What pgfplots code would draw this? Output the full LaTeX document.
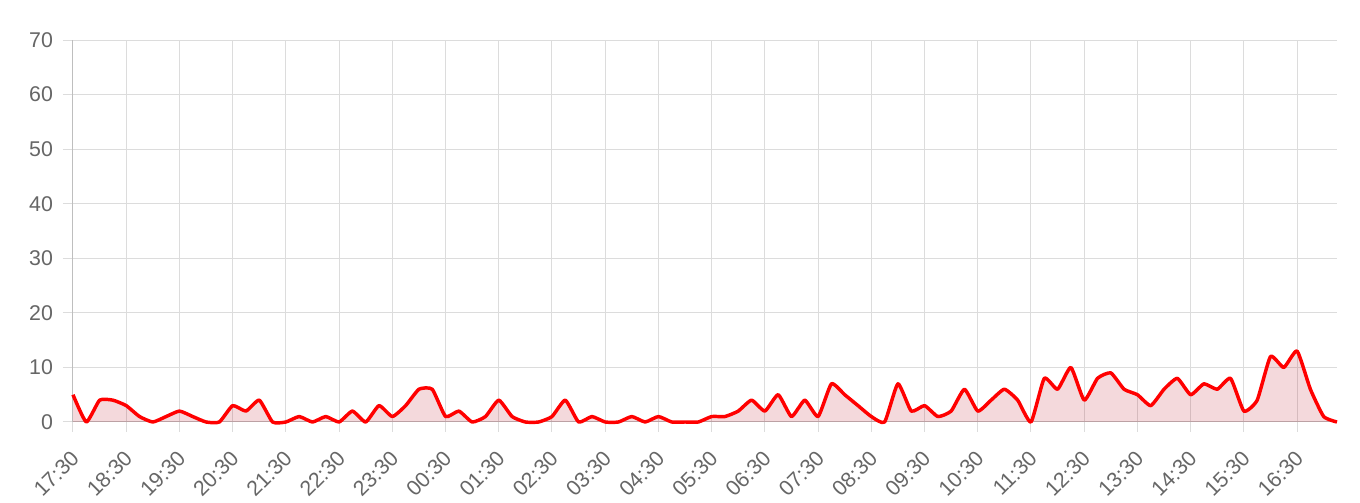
\documentclass[border=0pt]{standalone}
\usepackage{fontspec}
\setmainfont{Liberation Sans}
\usepackage{pgfplots}
\usepackage{pgfplotstable}
\pgfplotsset{compat=1.18}

\definecolor{lbl}{RGB}{102,102,102}
\definecolor{gridc}{RGB}{220,220,220}
\definecolor{axc}{RGB}{190,190,190}
\definecolor{ln}{RGB}{255,0,0}
\definecolor{fl}{RGB}{180,0,20}

% one value every 15 minutes, 17:30 .. 17:15
\pgfplotstableread{
q v
0 5
1 0
2 4
3 4
4 3
5 1
6 0
7 1
8 2
9 1
10 0
11 0
12 3
13 2
14 4
15 0
16 0
17 1
18 0
19 1
20 0
21 2
22 0
23 3
24 1
25 3
26 6
27 6
28 1
29 2
30 0
31 1
32 4
33 1
34 0
35 0
36 1
37 4
38 0
39 1
40 0
41 0
42 1
43 0
44 1
45 0
46 0
47 0
48 1
49 1
50 2
51 4
52 2
53 5
54 1
55 4
56 1
57 7
58 5
59 3
60 1
61 0
62 7
63 2
64 3
65 1
66 2
67 6
68 2
69 4
70 6
71 4
72 0
73 8
74 6
75 10
76 4
77 8
78 9
79 6
80 5
81 3
82 6
83 8
84 5
85 7
86 6
87 8
88 2
89 4
90 12
91 10
92 13
93 6
94 1
95 0
}\counts

\begin{document}
\begin{tikzpicture}
\begin{axis}[
  at={(0,0)}, anchor=south west,
  scale only axis, width=948pt, height=286.5pt,
  xmin=0, xmax=95, ymin=0, ymax=70,
  xtick={0,4,...,92},
  xticklabels={17:30,18:30,19:30,20:30,21:30,22:30,23:30,00:30,01:30,02:30,03:30,04:30,05:30,06:30,07:30,08:30,09:30,10:30,11:30,12:30,13:30,14:30,15:30,16:30},
  ytick={0,10,...,70},
  axis lines=left,
  axis line style={-, draw=axc, line width=0.75pt},
  grid=major,
  major grid style={draw=gridc, line width=0.75pt},
  tick align=outside,
  major tick length=7.5pt,
  tick style={draw=gridc, line width=0.75pt},
  tick label style={font=\fontsize{16}{18}\selectfont, text=lbl},
  x tick label style={xshift=-2.4pt, yshift=-8.2pt, rotate=45, anchor=north east},
  y tick label style={xshift=-4pt},
  /pgf/number format/assume math mode=true,
  clip=false,
]
\addplot[draw=none, fill=fl, fill opacity=0.15, smooth, tension=0.3]
  table[x=q, y=v] {\counts} \closedcycle;
\addplot[draw=ln, line width=2.6pt, smooth, tension=0.3, line join=round]
  table[x=q, y=v] {\counts};
\end{axis}
\pgfresetboundingbox
\path[use as bounding box] (-54.75pt,-60.75pt) rectangle (965.25pt,316.5pt);
\end{tikzpicture}
\end{document}
